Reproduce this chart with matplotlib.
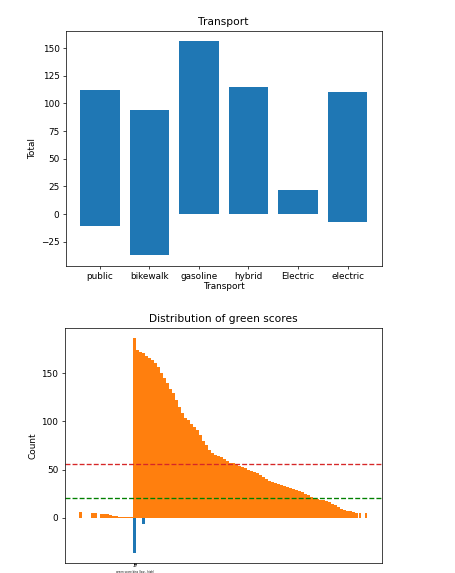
import numpy as np
import matplotlib
matplotlib.use("Agg")
import matplotlib.pyplot as plt

# Transport totals (positive and negative parts)
transport = ["public", "bikewalk", "gasoline", "hybrid", "Electric", "electric"]
total_pos = [112, 94, 156, 115, 22, 110]
total_neg = [-11, -37, 0, 0, 0, -7]

# Green score distribution, one value per bin
green_pos = [6, 0, 0, 0, 5, 5, 0, 4, 4, 3.5, 3, 2, 1.5, 1.2, 1, 1, 0.8, 0.5,
             186, 174, 172, 171, 168, 166, 164, 161, 156, 150, 145, 140, 134,
             129, 122, 115, 109, 104, 101, 97, 94, 91, 86, 80, 75, 70, 67, 65,
             64, 63, 61, 59, 57, 57, 55, 54, 53, 52, 50, 49, 48, 46, 44, 42,
             40, 38, 37, 36, 35, 34, 33, 32, 31, 30, 29, 28, 27, 25, 24, 22,
             21, 20, 19, 18, 17, 16, 14, 13, 11, 9, 8, 7, 7, 6, 5, 5, 0, 5]
green_neg = {18: -36, 21: -6}
mean_line = 56
median_line = 21
tick_bins = [17.8, 18.0, 18.2, 18.4]
tick_text = ["0", "1", "2", "3"]

W, H, DPI = 455, 573, 64
fig = plt.figure(figsize=(W / DPI, H / DPI), dpi=DPI)

# Top: transport totals
ax1 = fig.add_axes([65.7 / W, 1 - 265.7 / H, 316 / W, 235 / H])
x = np.arange(len(transport))
ax1.bar(x, total_pos, color="C0")
ax1.bar(x, total_neg, color="C0")
ax1.set_xticks(x)
ax1.set_xticklabels(transport)
ax1.set_title("Transport")
ax1.set_xlabel("Transport", labelpad=1)
ax1.set_ylabel("Total")

# Bottom: distribution of green scores
ax2 = fig.add_axes([64.5 / W, 1 - 563.3 / H, 317.2 / W, 235.6 / H])
bins = np.arange(len(green_pos))
ax2.bar(bins, green_pos, width=0.92, color="C1")
neg_idx = list(green_neg.keys())
ax2.bar(neg_idx, [green_neg[i] for i in neg_idx], width=0.8, color="C0")
ax2.axhline(mean_line, color="tab:red", linestyle="--")
ax2.axhline(median_line, color="green", linestyle="--")
ax2.set_xticks(tick_bins)
ax2.set_xticklabels(tick_text, fontsize=2.5)
ax2.tick_params(axis="x", length=2, pad=1)
ax2.text(18.2, -0.03, "green score bins (low - high)", transform=ax2.get_xaxis_transform(),
         fontsize=3, ha="center", va="top")
ax2.set_title("Distribution of green scores")
ax2.set_ylabel("Count")

fig.savefig("out.png", dpi=DPI)
